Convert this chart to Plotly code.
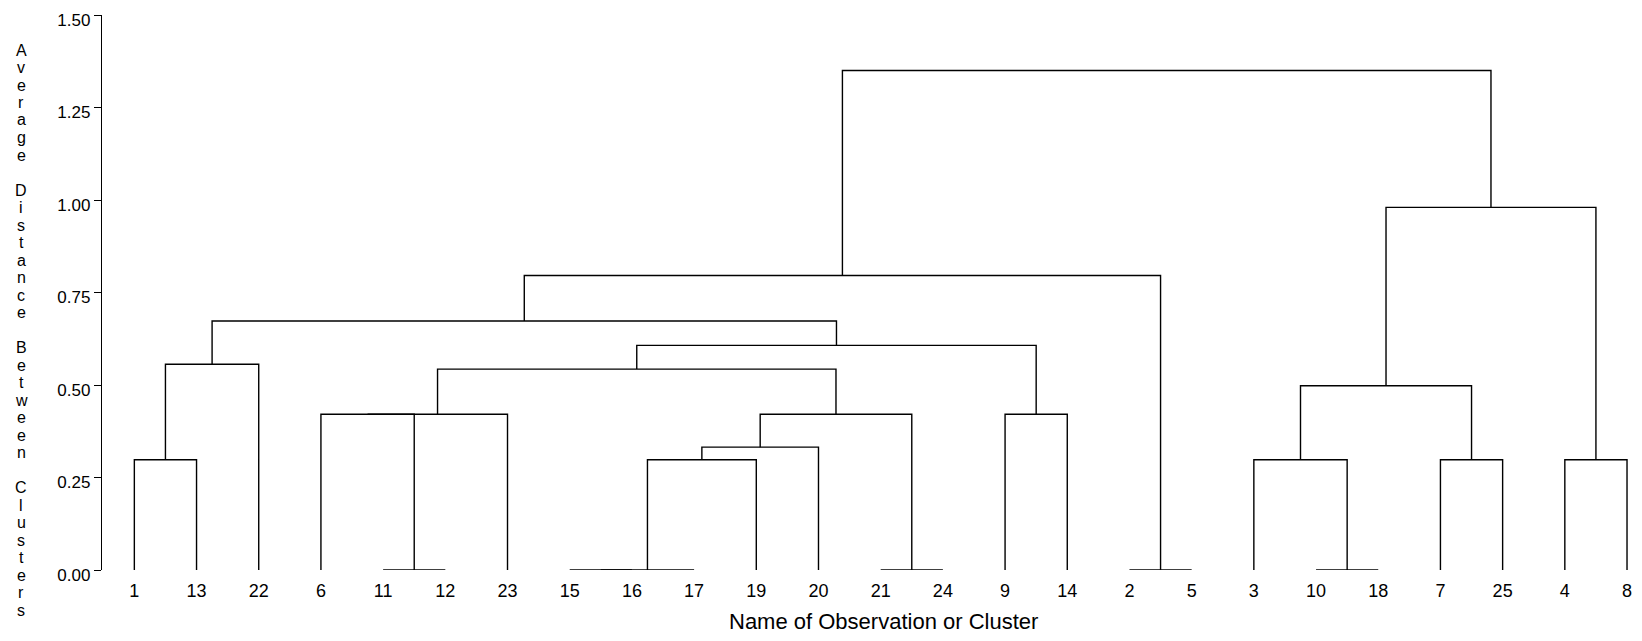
import plotly.graph_objects as go

# Leaf order along the x axis (observation names)
leaf_labels = ["1", "13", "22", "6", "11", "12", "23", "15", "16", "17", "19", "20",
               "21", "24", "9", "14", "2", "5", "3", "10", "18", "7", "25", "4", "8"]

# Merge steps: (left member, right member, joining height); "Cn" = cluster from step n
merge_left = ["1", "C1", "11", "6", "C4", "15", "C6", "C7", "C8", "21", "C9", "C5",
              "9", "C12", "C2", "2", "C15", "10", "3", "7", "C19", "4", "C21", "C17"]
merge_right = ["13", "22", "12", "C3", "23", "16", "17", "19", "20", "24", "C10", "C11",
               "14", "C13", "C14", "5", "C16", "18", "C18", "25", "C20", "8", "C22", "C23"]
merge_height = [0.298, 0.556, 0.0, 0.421, 0.421, 0.0, 0.0, 0.298, 0.332, 0.0, 0.421, 0.543,
                0.421, 0.607, 0.673, 0.0, 0.796, 0.0, 0.298, 0.298, 0.498, 0.298, 0.980, 1.350]

y_tick_vals = [0, 0.25, 0.5, 0.75, 1.0, 1.25, 1.5]
y_tick_text = ["0.00", "0.25", "0.50", "0.75", "1.00", "1.25", "1.50"]

# Build node positions: leaves at integer positions, clusters at midpoint of members
pos = {lab: (i + 1, 0.0) for i, lab in enumerate(leaf_labels)}
xs, ys = [], []
for n, (a, b, h) in enumerate(zip(merge_left, merge_right, merge_height), start=1):
    xa, ha = pos[a]
    xb, hb = pos[b]
    xs += [xa, xa, xb, xb, None]
    ys += [ha, h, h, hb, None]
    pos["C%d" % n] = ((xa + xb) / 2.0, h)

FONT = "Liberation Sans, Arial, Helvetica, sans-serif"

fig = go.Figure()
fig.add_trace(go.Scatter(x=xs, y=ys, mode="lines", cliponaxis=False,
                         line=dict(color="black", width=1.4),
                         hoverinfo="skip", showlegend=False))

# page body has an 8px margin: figure sits at window offset (8, 8)
OFF = 8
W, H = 1642 - 2 * OFF, 641 - 2 * OFF
ml, mr, mt, mb = 102 - OFF, 2, 15 - OFF, H - (570 - OFF)
pw = W - ml - mr
ph = H - mt - mb

def px_to_paper_x(px):  # px in window coordinates
    return (px - OFF - ml) / pw

def px_to_paper_y(py):
    return (H - mb - (py - OFF)) / ph

ytitle = "Average Distance Between Clusters"
annotations = []
n_rows = len(ytitle)
row_step = 17.5
center_y = 330
top_y = center_y - row_step * (n_rows - 1) / 2.0
for i, ch in enumerate(ytitle):
    if ch == " ":
        continue
    annotations.append(dict(text=ch, xref="paper", yref="paper",
                            x=px_to_paper_x(21), y=px_to_paper_y(top_y + i * row_step),
                            xanchor="center", yanchor="middle", showarrow=False,
                            font=dict(size=16, family=FONT, color="black")))
annotations.append(dict(text="Name of Observation or Cluster", xref="paper", yref="paper",
                        x=px_to_paper_x(884), y=px_to_paper_y(621),
                        xanchor="center", yanchor="middle", showarrow=False,
                        font=dict(size=22, family=FONT, color="black")))

fig.update_layout(
    width=W, height=H,
    margin=dict(l=ml, r=mr, t=mt, b=mb, autoexpand=False),
    paper_bgcolor="white", plot_bgcolor="white",
    font=dict(family=FONT, color="black", size=18),
    xaxis=dict(range=[0.48, 25.08], tickmode="array",
               tickvals=list(range(1, len(leaf_labels) + 1)), ticktext=leaf_labels,
               showgrid=False, zeroline=False, showline=False, automargin=False,
               ticks="outside", ticklen=4, tickcolor="rgba(0,0,0,0)",
               ticklabeloverflow="allow",
               tickfont=dict(size=18, family=FONT, color="black")),
    yaxis=dict(range=[0, 1.5], tickmode="array",
               tickvals=y_tick_vals, ticktext=y_tick_text,
               showgrid=False, zeroline=False, showline=True, linecolor="black",
               linewidth=1.3, ticks="outside", ticklen=7, tickcolor="black",
               tickwidth=1.3, automargin=False, ticklabeloverflow="allow",
               ticklabelshift=5,
               tickfont=dict(size=17, family=FONT, color="black")),
    annotations=annotations,
)

fig.write_html("out.html")
